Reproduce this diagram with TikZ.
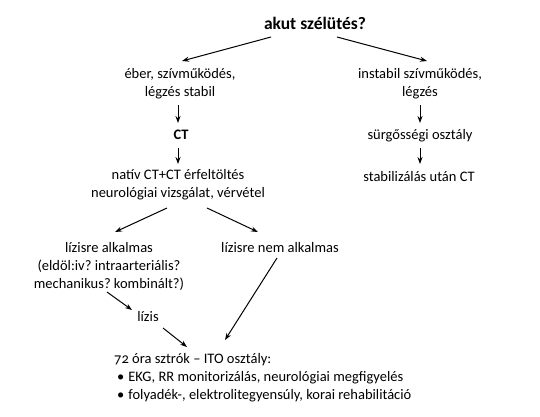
\documentclass[tikz,border=0pt]{standalone}
\usepackage{fontspec}
\setmainfont[Numbers=OldStyle]{Carlito}
\usetikzlibrary{arrows.meta}
\frenchspacing
\begin{document}
\begin{tikzpicture}[x=1pt,y=-1pt,
  txt/.style={inner sep=0pt,align=center,font=\fontsize{14.5}{18}\selectfont},
  arr/.style={line width=1pt,-{Stealth[length=7pt,width=5pt]}}]
\useasboundingbox[fill=white] (0,0) rectangle (540,416);
\node[txt,font=\fontsize{17.5}{18}\selectfont\bfseries] (akut) at (315,23) {akut szélütés?};
\node[txt] (eber) at (180,84) {éber, szívműködés,\\légzés stabil};
\node[txt] (instab) at (420,84) {instabil szívműködés,\\légzés};
\node[txt,font=\fontsize{14.5}{18}\selectfont\bfseries] (ct) at (181,135) {CT};
\node[txt] (sur) at (420,136) {sürgősségi osztály};
\node[txt] (nativ) at (178,185) {natív CT+CT érfeltöltés\\neurológiai vizsgálat, vérvétel};
\node[txt] (stab) at (419,177) {stabilizálás után CT};
\node[txt] (liz) at (109,266) {lízisre alkalmas\\(eldöl:iv? intraarteriális?\\mechanikus? kombinált?)};
\node[txt] (nem) at (280,248) {lízisre nem alkalmas};
\node[txt] (lizis) at (148,317) {lízis};
\node[txt,align=left,anchor=west] (ito) at (114,378) {72 óra sztrók – ITO osztály:\\
  \hspace{3pt}\textbullet\hspace{4pt}EKG, RR monitorizálás, neurológiai megfigyelés\\
  \hspace{3pt}\textbullet\hspace{4pt}folyadék-, elektrolitegyensúly, korai rehabilitáció};
\draw[arr] ([shift={(-44,14)}]akut.center) -- ([shift={(2,-23)}]eber.center);
\draw[arr] ([shift={(22,14)}]akut.center) -- ([shift={(7,-23)}]instab.center);
\draw[arr] ([shift={(-2,21)}]eber.center) -- ([shift={(-3,-12)}]ct.center);
\draw[arr] ([shift={(0,21)}]instab.center) -- ([shift={(0,-13)}]sur.center);
\draw[arr] ([shift={(-3,13)}]ct.center) -- ([shift={(0,-21)}]nativ.center);
\draw[arr] ([shift={(0,12)}]sur.center) -- ([shift={(1,-13)}]stab.center);
\draw[arr] ([shift={(-11,23)}]nativ.center) -- ([shift={(6,-34)}]liz.center);
\draw[arr] ([shift={(29,23)}]nativ.center) -- ([shift={(-22,-16)}]nem.center);
\draw[arr] ([shift={(-2,26)}]liz.center) -- ([shift={(-16,-7)}]lizis.center);
\draw[arr] ([shift={(15,11)}]lizis.center) -- ([shift={(73,-31)}]ito.west);
\draw[arr] ([shift={(-3,10)}]nem.center) -- ([shift={(111,-38)}]ito.west);
\end{tikzpicture}
\end{document}
